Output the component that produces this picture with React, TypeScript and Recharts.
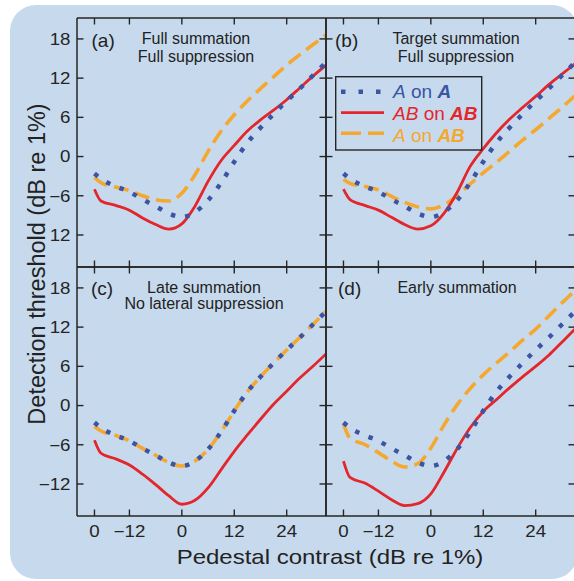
import React from 'react';
import { LineChart, Line, XAxis, YAxis } from 'recharts';

const W = 580;
const H = 581;
const FONT = '"Liberation Sans", Arial, Helvetica, sans-serif';
const INK = '#252525';
const BLUE = '#3b54a4';
const RED = '#e3262c';
const ORANGE = '#f5a82f';
const BG = '#c7daed';

// pedestal contrast (dB); -20 stands for the "0" (no pedestal) point left of the break
const PEDESTAL = [-20, -18.5, -15, -12, -9, -6, -3, 0, 3, 6, 9, 12, 15, 18, 21, 24, 27, 30, 33];
const X_TICKS = [-20, -12, 0, 12, 24];
const X_TICK_LABELS = ['0', '−12', '0', '12', '24'];
const Y_TICKS = [-12, -6, 0, 6, 12, 18];
const Y_LABELS_TOP = ['12', '−6', '0', '6', '12', '18'];
const Y_LABELS_BOTTOM = ['−12', '−6', '0', '6', '12', '18'];

// A on A (same in every panel)
const A_ON_A = [-2.6, -3.4, -4.6, -5.4, -6.55, -7.6, -8.7, -9.25, -8.5, -6.7, -4.0, -0.8, 2.1, 4.4, 6.5, 8.5, 10.4, 12.4, 14.4];

// (a) full summation, full suppression
const AB_ON_AB_A = [-5.0, -6.8, -7.5, -8.2, -9.4, -10.4, -11.1, -10.3, -7.6, -3.8, -0.6, 1.7, 3.9, 5.6, 7.1, 8.7, 10.5, 12.3, 14.0];
const A_ON_AB_A = [-3.2, -4.0, -4.7, -5.2, -6.0, -6.6, -6.8, -5.6, -2.8, 0.8, 3.9, 6.4, 8.5, 10.4, 12.2, 14.0, 15.6, 17.1, 18.6];

// (b) target summation, full suppression
const AB_ON_AB_B = [-5.0, -6.6, -7.5, -8.2, -9.3, -10.4, -11.1, -10.6, -8.7, -5.5, -1.5, 1.2, 3.6, 5.7, 7.5, 9.2, 11.0, 12.6, 14.2];
const A_ON_AB_B = [-3.5, -4.1, -4.6, -5.1, -6.1, -7.0, -7.7, -8.0, -7.4, -6.0, -4.2, -2.5, -0.9, 0.8, 2.5, 4.1, 5.8, 7.5, 9.3];

// (c) late summation, no lateral suppression
const AB_ON_AB_C = [-5.3, -7.3, -8.2, -9.1, -10.5, -12.1, -13.8, -15.1, -14.5, -12.6, -9.8, -7.0, -4.5, -2.1, 0.2, 2.2, 4.2, 6.0, 7.9];
const A_ON_AB_C = [-3.2, -3.9, -4.6, -5.4, -6.55, -7.6, -8.7, -9.25, -8.5, -6.7, -4.0, -0.8, 2.1, 4.4, 6.5, 8.5, 10.4, 12.4, 14.4];

// (d) early summation
const AB_ON_AB_D = [-8.5, -11.0, -11.9, -13.1, -14.4, -15.3, -15.0, -13.5, -10.2, -6.6, -3.4, -0.9, 0.9, 2.7, 4.4, 6.0, 7.7, 9.7, 11.7];
const A_ON_AB_D = [-2.8, -5.0, -6.0, -7.2, -8.5, -9.4, -8.9, -6.5, -3.0, 0.1, 2.6, 4.7, 6.5, 8.2, 10.0, 11.7, 13.7, 15.7, 17.6];

const rows = (abab: number[], aab: number[]) =>
  PEDESTAL.map((x, i) => ({ x, aa: A_ON_A[i], abab: abab[i], aab: aab[i] }));

const PANELS = [
  { key: 'a', left: 77, top: 18, data: rows(AB_ON_AB_A, A_ON_AB_A), yLabels: Y_LABELS_TOP, xLabels: false },
  { key: 'b', left: 326, top: 18, data: rows(AB_ON_AB_B, A_ON_AB_B), yLabels: null, xLabels: false },
  { key: 'c', left: 77, top: 267, data: rows(AB_ON_AB_C, A_ON_AB_C), yLabels: Y_LABELS_BOTTOM, xLabels: true },
  { key: 'd', left: 326, top: 267, data: rows(AB_ON_AB_D, A_ON_AB_D), yLabels: null, xLabels: true },
];

const SIZE = 249;
const TICK = 6.5;
const AX = 1; // axis band size (must be > 0 for recharts to draw it)

function makeTick(side: string, ticks: number[], labels: string[] | null) {
  return (props: any) => {
    const { x, y, payload } = props;
    const i = ticks.indexOf(payload.value);
    const label = labels && i >= 0 ? labels[i] : null;
    let line;
    let txt = null;
    if (side === 'bottom') {
      line = <line x1={x} y1={y} x2={x} y2={y - TICK} stroke={INK} strokeWidth={1.4} />;
      if (label)
        txt = (
          <text transform={`translate(${x},${y + 20.5}) scale(1.17,1)`} textAnchor="middle" fontSize={16} fill={INK} fontFamily={FONT}>
            {label}
          </text>
        );
    } else if (side === 'top') {
      line = <line x1={x} y1={y} x2={x} y2={y + TICK} stroke={INK} strokeWidth={1.4} />;
    } else if (side === 'left') {
      line = <line x1={x} y1={y} x2={x + TICK} y2={y} stroke={INK} strokeWidth={1.4} />;
      if (label)
        txt = (
          <text transform={`translate(${x - 6.5},${y + 5.8}) scale(1.17,1)`} textAnchor="end" fontSize={16} fill={INK} fontFamily={FONT}>
            {label}
          </text>
        );
    } else {
      line = <line x1={x} y1={y} x2={x - TICK} y2={y} stroke={INK} strokeWidth={1.4} />;
    }
    return (
      <g>
        {line}
        {txt}
      </g>
    );
  };
}

function Panel({ p }: { p: (typeof PANELS)[number] }) {
  const axisLine = { stroke: INK, strokeWidth: 1.5 };
  return (
    <LineChart
      width={W}
      height={H}
      data={p.data}
      margin={{ left: p.left - AX, top: p.top - AX, right: W - p.left - SIZE - AX, bottom: H - p.top - SIZE - AX }}
      style={{ position: 'absolute', left: 0, top: 0 }}
    >
      <XAxis dataKey="x" type="number" domain={[-24, 33]} allowDataOverflow ticks={X_TICKS} interval={0} height={AX}
        tickSize={0} tickMargin={0} tickLine={false} axisLine={axisLine}
        tick={makeTick('bottom', X_TICKS, p.xLabels ? X_TICK_LABELS : null)} />
      <XAxis xAxisId="top" orientation="top" dataKey="x" type="number" domain={[-24, 33]} allowDataOverflow ticks={X_TICKS}
        interval={0} height={AX} tickSize={0} tickMargin={0} tickLine={false} axisLine={axisLine}
        tick={makeTick('top', X_TICKS, null)} />
      <YAxis type="number" domain={[-16.9, 21.2]} allowDataOverflow ticks={Y_TICKS} interval={0} width={AX}
        tickSize={0} tickMargin={0} tickLine={false} axisLine={axisLine}
        tick={makeTick('left', Y_TICKS, p.yLabels)} />
      <YAxis yAxisId="right" orientation="right" type="number" domain={[-16.9, 21.2]} allowDataOverflow ticks={Y_TICKS}
        interval={0} width={AX} tickSize={0} tickMargin={0} tickLine={false} axisLine={axisLine}
        tick={makeTick('right', Y_TICKS, null)} />
      <Line type="monotone" dataKey="aab" stroke={ORANGE} strokeWidth={3.6} strokeDasharray="15 7" dot={false} isAnimationActive={false} />
      <Line type="monotone" dataKey="abab" stroke={RED} strokeWidth={2.8} dot={false} isAnimationActive={false} />
      <Line type="monotone" dataKey="aa" stroke={BLUE} strokeWidth={4.5} strokeDasharray="4.5 10" dot={false} isAnimationActive={false} />
    </LineChart>
  );
}

const txt = { fontFamily: FONT, fill: '#222' };

export default function App() {
  return (
    <div style={{ position: 'absolute', left: 0, top: 0, width: 574, height: 581, overflow: 'hidden', background: '#fff' }}>
      <div style={{ position: 'absolute', left: 10, top: 5, width: 568, height: 574, borderRadius: 26, background: BG }} />
      {PANELS.map((p) => (
        <Panel key={p.key} p={p} />
      ))}
      <svg width={574} height={581} style={{ position: 'absolute', left: 0, top: 0, pointerEvents: 'none' }}>
        <g {...txt}>
          <text x={91.5} y={47} fontSize={19}>(a)</text>
          <text x={196} y={44} fontSize={16} textAnchor="middle">Full summation</text>
          <text x={196} y={61.5} fontSize={16} textAnchor="middle">Full suppression</text>
          <text x={335} y={47} fontSize={19}>(b)</text>
          <text x={456} y={44} fontSize={16} textAnchor="middle">Target summation</text>
          <text x={456} y={62} fontSize={16} textAnchor="middle">Full suppression</text>
          <text x={91} y={295} fontSize={19}>(c)</text>
          <text x={204} y={293} fontSize={16} textAnchor="middle">Late summation</text>
          <text x={204} y={309} fontSize={16} textAnchor="middle">No lateral suppression</text>
          <text x={338} y={295} fontSize={19}>(d)</text>
          <text x={457} y={293} fontSize={16} textAnchor="middle">Early summation</text>
          <text transform="translate(45,264) rotate(-90)" fontSize={23.5} textAnchor="middle">
            Detection threshold (dB re 1%)
          </text>
          <text transform="translate(330,564) scale(1.2,1)" fontSize={20} textAnchor="middle">
            Pedestal contrast (dB re 1%)
          </text>
        </g>
        <g>
          <rect x={335.7} y={76.7} width={146} height={73.3} fill="none" stroke={INK} strokeWidth={1.4} />
          <line x1={341} y1={91.7} x2={382} y2={91.7} stroke={BLUE} strokeWidth={4.5} strokeDasharray="4.5 13" />
          <line x1={341} y1={112.7} x2={384} y2={112.7} stroke={RED} strokeWidth={2.8} />
          <line x1={341} y1={133.3} x2={384} y2={133.3} stroke={ORANGE} strokeWidth={3.6} strokeDasharray="20 7" />
          <text x={393} y={98.3} fontSize={19} fontFamily={FONT} fill={BLUE}>
            <tspan fontStyle="italic">A</tspan>
            <tspan> on </tspan>
            <tspan fontStyle="italic" fontWeight="bold">A</tspan>
          </text>
          <text x={393} y={120} fontSize={19} fontFamily={FONT} fill={RED}>
            <tspan fontStyle="italic">AB</tspan>
            <tspan> on </tspan>
            <tspan fontStyle="italic" fontWeight="bold">AB</tspan>
          </text>
          <text x={393} y={141.7} fontSize={19} fontFamily={FONT} fill={ORANGE}>
            <tspan fontStyle="italic">A</tspan>
            <tspan> on </tspan>
            <tspan fontStyle="italic" fontWeight="bold">AB</tspan>
          </text>
        </g>
      </svg>
    </div>
  );
}
